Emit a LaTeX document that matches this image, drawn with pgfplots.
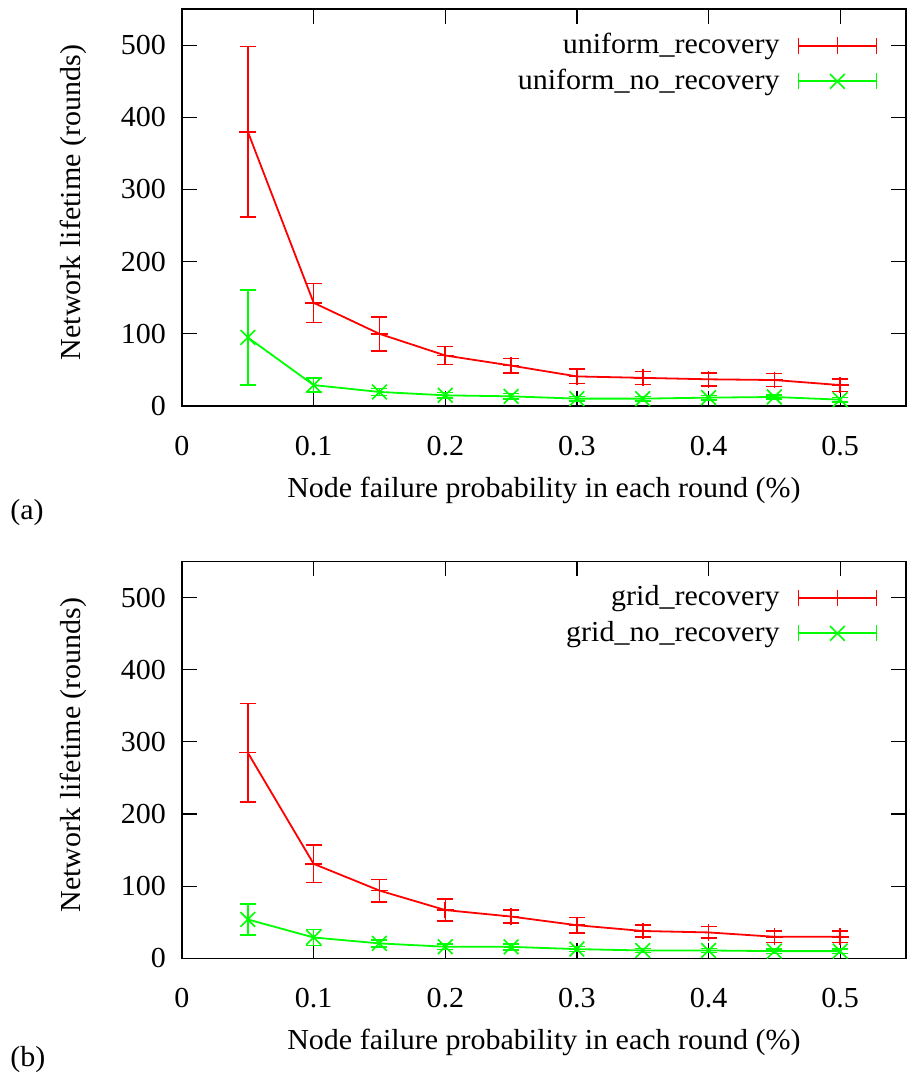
\documentclass[border=0pt]{standalone}
\usepackage{pgfplots}
\pgfplotsset{compat=1.18}
\usepackage{pgfplotstable}
\usepackage{fontspec}
\setmainfont[FakeStretch=1.035]{Liberation Serif}
\definecolor{gpred}{rgb}{1,0,0}
\definecolor{gpgreen}{rgb}{0,1,0}

\pgfplotstableread{
x y e
0.05 380 118
0.10 143 27
0.15 100 23.5
0.20 70 12.7
0.25 56 10
0.30 41 10
0.35 39 9
0.40 37 9
0.45 36 9
0.50 29 8.7
}\unirec
\pgfplotstableread{
x y e
0.05 95 66
0.10 29 9.5
0.15 19.5 5
0.20 14.8 4
0.25 13.4 4
0.30 10.2 3
0.35 10.2 3
0.40 11.6 3
0.45 12.5 3
0.50 8.8 3
}\uninorec
\pgfplotstableread{
x y e
0.05 285 68.5
0.10 131 26
0.15 94 15.5
0.20 67 15
0.25 58 9
0.30 46 11
0.35 38 8
0.40 36 8
0.45 30 8
0.50 30 8
}\gridrec
\pgfplotstableread{
x y e
0.05 54 21.5
0.10 29 11
0.15 20.8 5
0.20 16.2 4
0.25 16 4
0.30 12.9 3.5
0.35 11 3
0.40 11 3
0.45 10.1 3
0.50 10.1 3
}\gridnorec

\pgfplotsset{
  gp/.style={
    scale only axis, width=362pt, height=198.5pt,
    xmin=0, xmax=0.55, ymin=0, ymax=550,
    xtick={0,0.1,0.2,0.3,0.4,0.5},
    xticklabels={0,0.1,0.2,0.3,0.4,0.5},
    ytick={0,100,200,300,400,500},
    /pgf/number format/assume math mode=true,
    tick align=inside, major tick length=7.5pt,
    tick style={black, line width=0.6pt},
    axis line style={black, line width=0.8pt},
    xticklabel style={yshift=-10pt},
    yticklabel style={xshift=-3pt},
    every axis x label/.style={at={(axis description cs:0.5,0)}, anchor=base, yshift=-45.6pt},
    every axis y label/.style={at={(axis description cs:-0.1506,0.5126)}, anchor=center, rotate=90},
    xlabel={Node failure probability in each round (\%)},
    ylabel={Network lifetime (rounds)},
    legend cell align=right, legend plot pos=right,
    legend style={at={(axis description cs:0.961,0.9395)}, anchor=north east,
      draw=none, fill=none, inner sep=0pt, row sep=5.4pt, column sep=9pt,
      nodes={inner sep=0pt}},
    legend image code/.code={
      \draw[##1,mark=none] (0pt,0pt) -- (39pt,0pt) (0pt,-4pt) -- (0pt,4pt) (39pt,-4pt) -- (39pt,4pt);
      \draw[##1] plot coordinates {(19.5pt,0pt)};
    },
    error bars/y dir=both, error bars/y explicit,
  },
  redser/.style={color=gpred, line width=0.9pt, mark=+, mark size=4.2pt,
    mark options={line width=0.8pt, solid},
    error bars/error bar style={gpred, line width=0.75pt},
    error bars/error mark options={gpred, rotate=90, line width=0.75pt, mark size=4pt}},
  greenser/.style={color=gpgreen, line width=0.9pt, mark=x, mark size=5.2pt,
    mark options={line width=0.8pt, solid},
    error bars/error bar style={gpgreen, line width=0.75pt},
    error bars/error mark options={gpgreen, rotate=90, line width=0.75pt, mark size=4pt}},
}

\begin{document}
\fontsize{14.5}{17}\selectfont
\begin{tikzpicture}
\path[use as bounding box] (0pt,0pt) rectangle (453pt,-541pt);
\begin{axis}[gp, at={(91pt,-203pt)}, anchor=south west]
\addplot[redser] table[x=x, y=y, y error=e] {\unirec};
\addlegendentry{uniform\_recovery}
\addplot[greenser] table[x=x, y=y, y error=e] {\uninorec};
\addlegendentry{uniform\_no\_recovery}
\end{axis}
\begin{axis}[gp, at={(91pt,-479.2pt)}, anchor=south west]
\addplot[redser] table[x=x, y=y, y error=e] {\gridrec};
\addlegendentry{grid\_recovery}
\addplot[greenser] table[x=x, y=y, y error=e] {\gridnorec};
\addlegendentry{grid\_no\_recovery}
\end{axis}
\node[anchor=base west, inner sep=0pt] at (5pt,-259.5pt) {(a)};
\node[anchor=base west, inner sep=0pt] at (5pt,-533pt) {(b)};
\end{tikzpicture}
\end{document}
